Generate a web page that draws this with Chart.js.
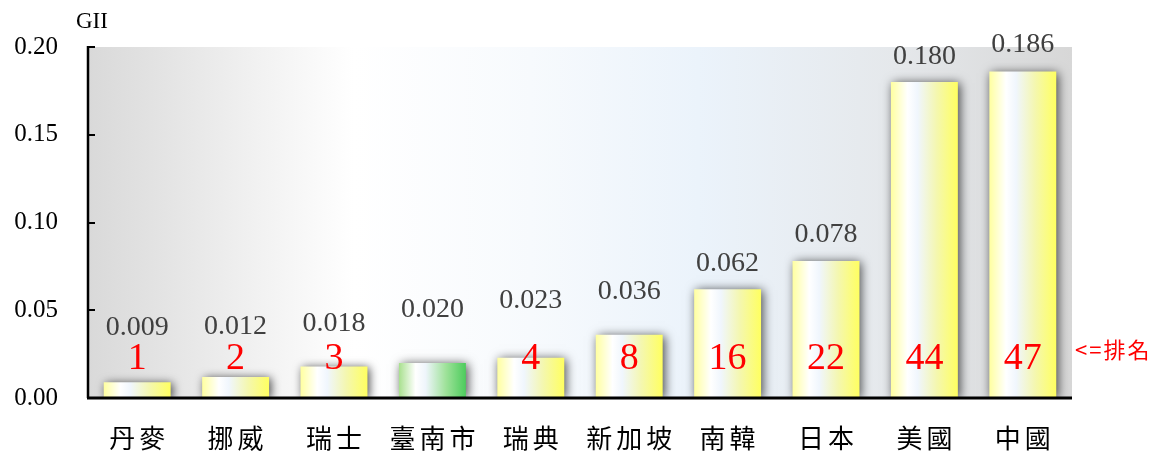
<!DOCTYPE html>
<html>
<head>
<meta charset="utf-8">
<script src="https://cdn.jsdelivr.net/npm/chart.js@4/dist/chart.umd.min.js"></script>
<style>
  html, body { margin: 0; padding: 0; background: #fff; }
  #wrap { width: 1163px; height: 454px; position: relative; }
</style>
</head>
<body>
<div id="wrap"><canvas id="c" width="1163" height="454"></canvas></div>
<script>
// ---- data ----
const categories = ['丹麥', '挪威', '瑞士', '臺南市', '瑞典', '新加坡', '南韓', '日本', '美國', '中國'];
const giiValues  = [0.009, 0.012, 0.018, 0.020, 0.023, 0.036, 0.062, 0.078, 0.180, 0.186];
const ranks      = [1, 2, 3, null, 4, 8, 16, 22, 44, 47];
const highlightCategory = '臺南市';
const yTickValues = [0, 0.05, 0.10, 0.15, 0.20];
const axisTitle = 'GII';
const rankNote = '<=排名';

// ---- styling (pixel offsets of value labels above bar tops) ----
const valueLabelLift = [55, 50, 43, 53, 57, 43, 26, 26, 25, 27];
const BAR_PCT = 0.68;

function barGradient(ctx) {
  const chart = ctx.chart;
  const xs = chart.scales.x;
  if (!chart.chartArea || !xs) return '#ffff80';
  const i = ctx.dataIndex;
  const cx = xs.getPixelForValue(i);
  const w = (xs.width / categories.length) * BAR_PCT;
  const g = chart.ctx.createLinearGradient(cx - w / 2, 0, cx + w / 2, 0);
  if (categories[i] === highlightCategory) {
    g.addColorStop(0, '#a8e08e');
    g.addColorStop(0.25, '#ffffff');
    g.addColorStop(0.4, '#eef5fb');
    g.addColorStop(0.7, '#9fe29a');
    g.addColorStop(1, '#4ccc5c');
  } else {
    g.addColorStop(0, '#ffffa0');
    g.addColorStop(0.25, '#ffffff');
    g.addColorStop(0.4, '#f0f6fd');
    g.addColorStop(0.68, '#f4f7b0');
    g.addColorStop(1, '#ffff60');
  }
  return g;
}

const decorPlugin = {
  id: 'decor',
  beforeDraw(chart) {
    const { ctx, chartArea: a } = chart;
    ctx.save();
    const g = ctx.createLinearGradient(a.left, 0, a.right, 0);
    g.addColorStop(0, '#d9d9d9');
    g.addColorStop(0.27, '#ffffff');
    g.addColorStop(0.45, '#f7fafd');
    g.addColorStop(0.62, '#ebf3fb');
    g.addColorStop(0.82, '#e5e8eb');
    g.addColorStop(1, '#d7d7d7');
    ctx.fillStyle = g;
    ctx.fillRect(a.left, a.top, a.right - a.left, a.bottom - a.top);
    ctx.restore();
  },
  beforeDatasetsDraw(chart) {
    const ctx = chart.ctx;
    ctx.save();
    ctx.shadowColor = 'rgba(0,0,0,0.7)';
    ctx.shadowBlur = 10;
    ctx.shadowOffsetX = 2;
    ctx.shadowOffsetY = 1;
  },
  afterDatasetsDraw(chart) {
    const ctx = chart.ctx;
    ctx.restore();
    const a = chart.chartArea;
    const ys = chart.scales.y;
    const meta = chart.getDatasetMeta(0);
    // axis lines
    ctx.save();
    ctx.strokeStyle = '#000';
    ctx.lineWidth = 2.5;
    ctx.beginPath();
    ctx.moveTo(a.left, a.top - 1);
    ctx.lineTo(a.left, a.bottom);
    ctx.stroke();
    yTickValues.forEach(v => {
      const y = Math.round(ys.getPixelForValue(v));
      ctx.beginPath();
      ctx.lineWidth = 2;
      ctx.moveTo(a.left, y);
      ctx.lineTo(a.left + 7, y);
      ctx.stroke();
    });
    ctx.lineWidth = 3;
    ctx.beginPath();
    ctx.moveTo(a.left - 1, a.bottom);
    ctx.lineTo(a.right, a.bottom);
    ctx.stroke();
    // value labels
    ctx.textAlign = 'center';
    ctx.textBaseline = 'middle';
    ctx.font = '28px "Liberation Serif", serif';
    ctx.fillStyle = '#404040';
    meta.data.forEach((bar, i) => {
      ctx.fillText(giiValues[i].toFixed(3), bar.x, bar.y - valueLabelLift[i]);
    });
    // rank labels
    ctx.font = '38px "Liberation Serif", serif';
    ctx.fillStyle = '#ff0000';
    const y0 = ys.getPixelForValue(0);
    meta.data.forEach((bar, i) => {
      if (ranks[i] !== null) ctx.fillText(String(ranks[i]), bar.x, y0 - 39);
    });
    // category labels
    ctx.fillStyle = '#000';
    ctx.font = '26px "Noto Sans CJK TC", sans-serif';
    ctx.letterSpacing = '4px';
    meta.data.forEach((bar, i) => {
      ctx.fillText(categories[i], bar.x + 2, y0 + 40);
    });
    // rank note
    ctx.fillStyle = '#ff0000';
    ctx.textAlign = 'left';
    ctx.letterSpacing = '2px';
    ctx.font = '22px "Noto Sans CJK TC", sans-serif';
    ctx.fillText(rankNote, a.right + 3, y0 - 48);
    ctx.letterSpacing = '0px';
    // axis title
    ctx.fillStyle = '#000';
    ctx.font = '23px "Liberation Serif", serif';
    ctx.fillText(axisTitle, 76, 22);
    ctx.restore();
  }
};

new Chart(document.getElementById('c'), {
  type: 'bar',
  data: {
    labels: categories,
    datasets: [{
      data: giiValues,
      backgroundColor: barGradient,
      borderWidth: 0,
      barPercentage: BAR_PCT,
      categoryPercentage: 1.0
    }]
  },
  options: {
    responsive: false,
    animation: false,
    devicePixelRatio: 1,
    layout: { padding: { left: 0, top: 47, right: 91, bottom: 0 } },
    plugins: { legend: { display: false }, tooltip: { enabled: false } },
    scales: {
      x: {
        grid: { display: false, drawTicks: false },
        border: { display: false },
        ticks: { display: false },
        afterFit(s) { s.height = 56; }
      },
      y: {
        min: 0, max: 0.2,
        grid: { display: false, drawTicks: false },
        border: { display: false },
        ticks: {
          stepSize: 0.05,
          color: '#000',
          font: { family: '"Liberation Serif", serif', size: 25 },
          padding: 30,
          callback: v => v.toFixed(2)
        },
        afterFit(s) { s.width = 88; }
      }
    }
  },
  plugins: [decorPlugin]
});
</script>
</body>
</html>
